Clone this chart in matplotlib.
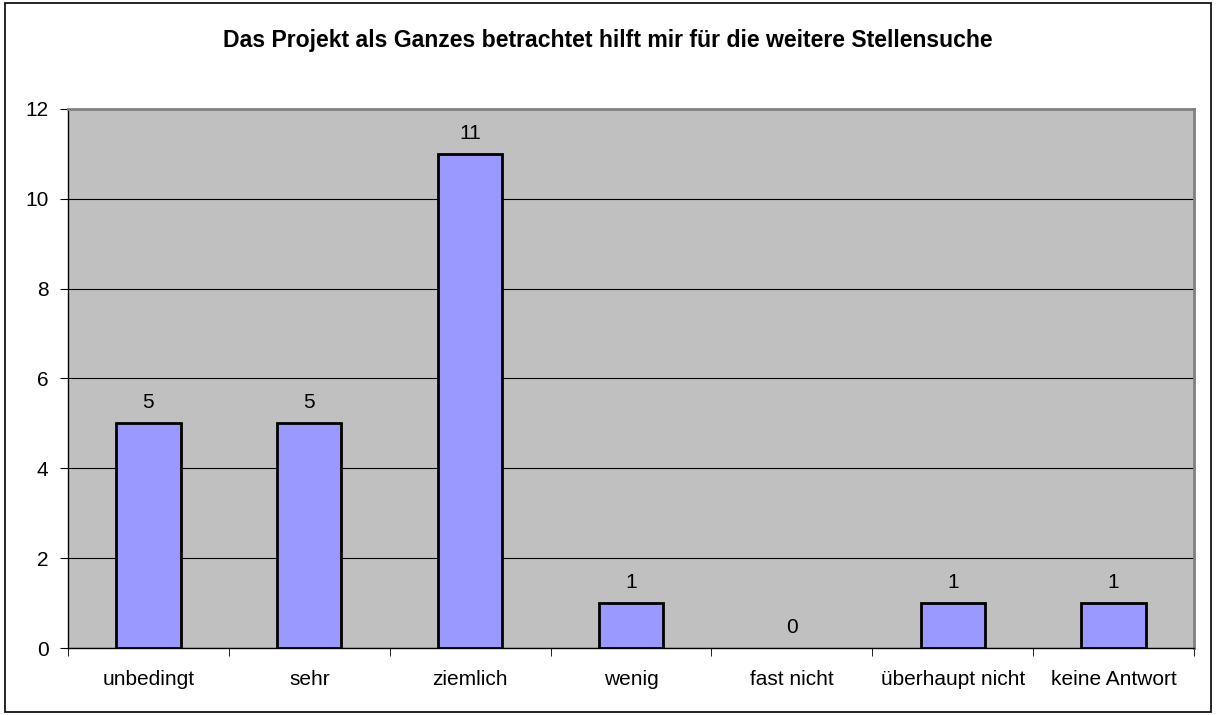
import matplotlib.pyplot as plt
from matplotlib.patches import Rectangle

categories = ['unbedingt', 'sehr', 'ziemlich', 'wenig', 'fast nicht',
              'überhaupt nicht', 'keine Antwort']
counts = [5, 5, 11, 1, 0, 1, 1]
y_ticks = [0, 2, 4, 6, 8, 10, 12]

plt.rcParams['font.family'] = ['Liberation Sans', 'DejaVu Sans']

fig = plt.figure(figsize=(12.16, 7.15), dpi=100)
fig.patches.append(Rectangle((0.004, 0.004), 0.992, 0.992, transform=fig.transFigure,
                             fill=False, edgecolor='black', linewidth=1.2))

ax = fig.add_axes([0.0559, 0.0937, 0.926, 0.754])
ax.set_facecolor('#c0c0c0')

x = range(len(categories))
bars = ax.bar(x, counts, width=0.4, color='#9999ff', edgecolor='black',
              linewidth=2, zorder=3)
for b, v in zip(bars, counts):
    if v == 0:
        b.set_visible(False)
for xi, v in zip(x, counts):
    ax.text(xi, v + 0.25, str(v), ha='center', va='bottom', fontsize=15)

ax.set_xlim(-0.5, len(categories) - 0.5)
ax.set_ylim(0, 12)
ax.set_yticks(y_ticks)
ax.set_xticks(x)
ax.set_xticklabels(categories, fontsize=15)
ax.tick_params(axis='y', labelsize=15, direction='out', length=6, pad=8)
ax.tick_params(axis='x', length=0, pad=16)
# category separators as minor ticks
ax.set_xticks([i - 0.5 for i in range(len(categories) + 1)], minor=True)
ax.tick_params(axis='x', which='minor', direction='out', length=6)
ax.yaxis.grid(True, color='black', linewidth=0.8, zorder=1)
ax.set_axisbelow(True)

ax.spines['top'].set_color('#808080')
ax.spines['right'].set_color('#808080')
ax.spines['top'].set_linewidth(2)
ax.spines['right'].set_linewidth(2)
ax.spines['left'].set_linewidth(1)
ax.spines['bottom'].set_linewidth(1)

fig.text(0.5, 0.944, 'Das Projekt als Ganzes betrachtet hilft mir für die weitere Stellensuche',
         ha='center', va='center', fontsize=16.6, fontweight='bold')

fig.savefig('out.png', dpi=100)
